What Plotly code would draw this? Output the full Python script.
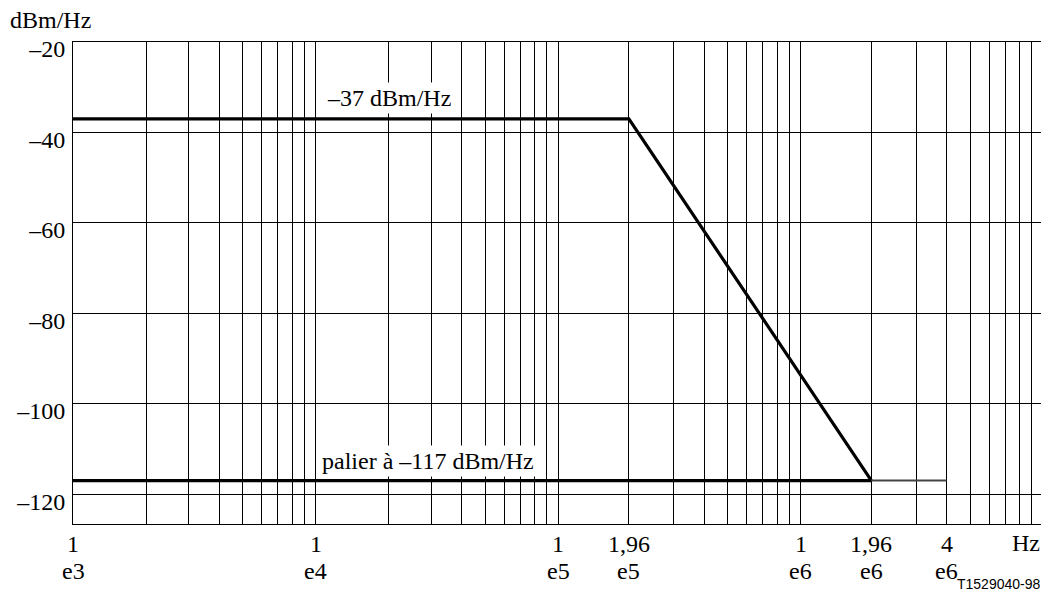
import math
import plotly.graph_objects as go

# ---- data ----
mask_freq = [1e3, 1.96e5, 1.96e6]
mask_psd = [-37, -37, -117]
floor_freq = [1e3, 1.96e6]
floor_psd = [-117, -117]
tail_freq = [1.96e6, 4e6]
tail_psd = [-117, -117]

grid_freqs = [1e3, 2e3, 3e3, 4e3, 5e3, 6e3, 7e3, 8e3, 9e3,
              1e4, 2e4, 3e4, 4e4, 5e4, 6e4, 7e4, 8e4, 9e4,
              1e5, 1.96e5, 3e5, 4e5, 5e5, 6e5, 7e5, 8e5, 9e5,
              1e6, 1.96e6, 3e6, 4e6, 5e6, 6e6, 7e6, 8e6, 9e6, 1e7]
label_freqs = [1e3, 1e4, 1e5, 1.96e5, 1e6, 1.96e6, 4e6]
label_mantissa = ["1", "1", "1", "1,96", "1", "1,96", "4"]
label_exponent = ["e3", "e4", "e5", "e5", "e6", "e6", "e6"]

y_tick_vals = [-20, -40, -60, -80, -100, -120]
y_tick_text = ["\u201320", "\u201340", "\u201360", "\u201380", "\u2013100", "\u2013120"]

serif = "Liberation Serif"
FS = 24

fig = go.Figure()
fig.add_trace(go.Scatter(x=mask_freq, y=mask_psd, mode="lines",
                         line=dict(color="black", width=3.2), showlegend=False))
fig.add_trace(go.Scatter(x=floor_freq, y=floor_psd, mode="lines",
                         line=dict(color="black", width=3.2), showlegend=False))
fig.add_trace(go.Scatter(x=tail_freq, y=tail_psd, mode="lines",
                         line=dict(color="#444444", width=2), showlegend=False))

annotations = [
    dict(text="dBm/Hz", xref="paper", yref="paper", x=-0.067, y=1.046,
         xanchor="left", yanchor="middle", showarrow=False, font=dict(size=FS)),
    dict(text="Hz", xref="paper", yref="paper", x=0.999, y=-0.04,
         xanchor="right", yanchor="middle", showarrow=False, font=dict(size=FS)),
    dict(text="T1529040-98", xref="paper", yref="paper", x=1.0, y=-0.124,
         xanchor="right", yanchor="middle", showarrow=False,
         font=dict(family="Liberation Sans", size=14)),
    dict(text="\u201337 dBm/Hz", xref="x", yref="y", x=4.303, y=-32.4,
         xanchor="center", yanchor="middle", showarrow=False, font=dict(size=FS),
         bgcolor="white", borderpad=2),
    dict(text="palier à \u2013117 dBm/Hz", xref="x", yref="y", x=4.464, y=-112.6,
         xanchor="center", yanchor="middle", showarrow=False, font=dict(size=FS),
         bgcolor="white", borderpad=2),
]
for f, m, e in zip(label_freqs, label_mantissa, label_exponent):
    annotations.append(dict(text=m, xref="x", yref="paper", x=math.log10(f), y=-0.0425,
                            xanchor="center", yanchor="middle", showarrow=False,
                            font=dict(size=FS)))
    annotations.append(dict(text=e, xref="x", yref="paper", x=math.log10(f), y=-0.098,
                            xanchor="center", yanchor="middle", showarrow=False,
                            font=dict(size=FS)))

fig.update_layout(
    width=1041, height=587,
    margin=dict(l=65, r=6, t=34, b=71),
    paper_bgcolor="white", plot_bgcolor="white",
    font=dict(family=serif, size=FS, color="black"),
    xaxis=dict(type="log", range=[3, 7], tickvals=grid_freqs,
               ticktext=["" for _ in grid_freqs],
               showgrid=True, gridcolor="black", gridwidth=1,
               showline=True, linecolor="black", linewidth=1, mirror=True,
               ticks="", zeroline=False),
    yaxis=dict(range=[-126.6, -20], tickvals=y_tick_vals, ticktext=y_tick_text,
               showgrid=True, gridcolor="black", gridwidth=1,
               showline=True, linecolor="black", linewidth=1, mirror=True,
               ticks="", ticklabelstandoff=2, ticklabelshift=7,
               tickfont=dict(family=serif, size=FS), zeroline=False),
    annotations=annotations,
)

fig.write_html("out.html")
